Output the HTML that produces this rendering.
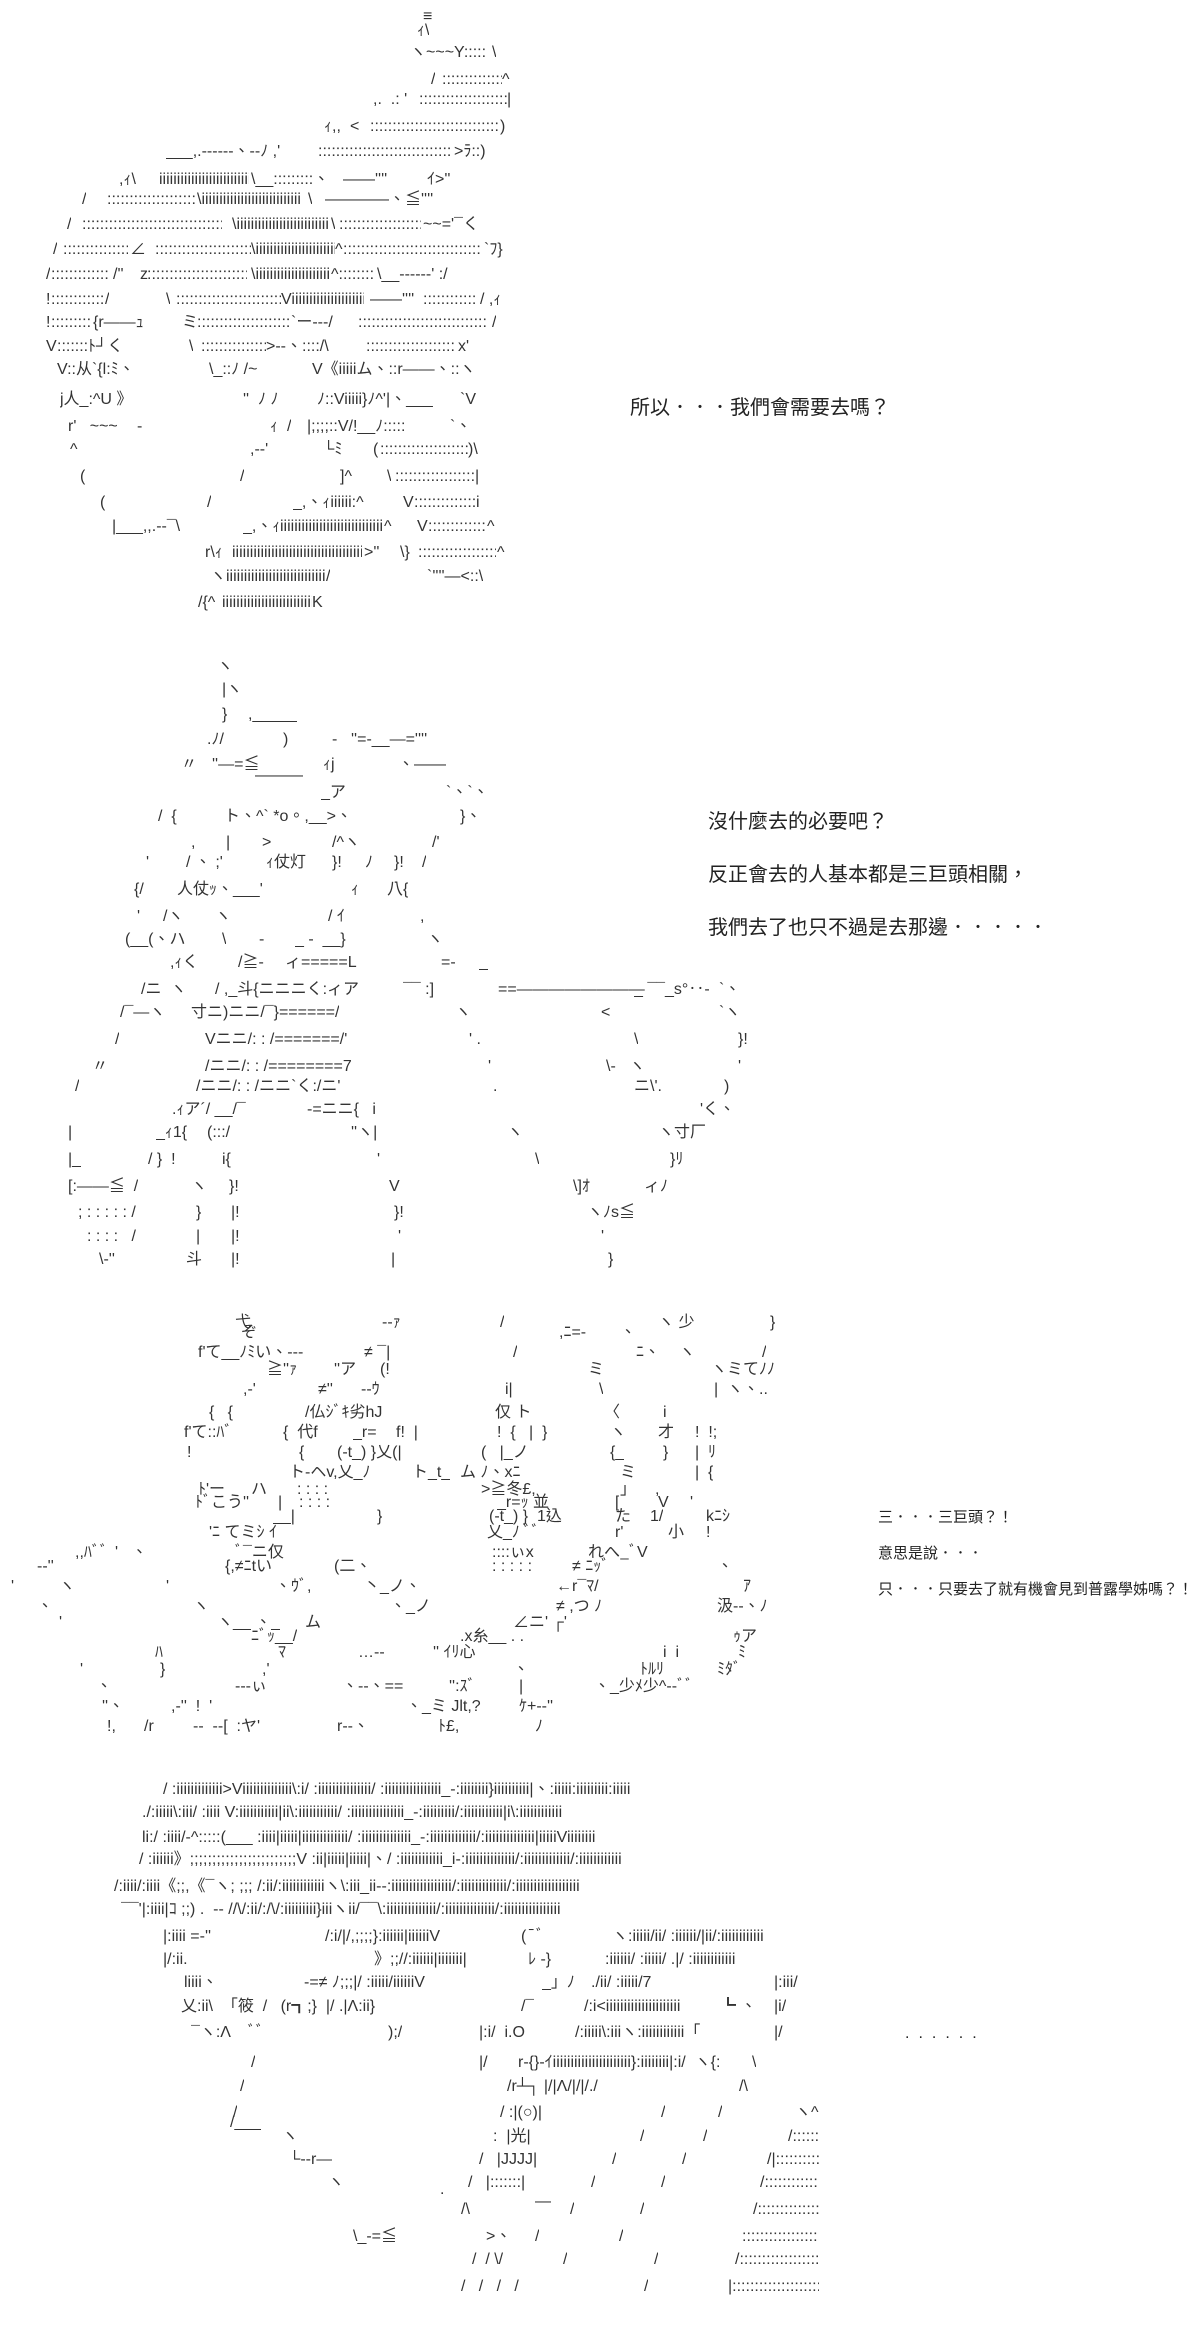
<!DOCTYPE html>
<html><head><meta charset="utf-8">
<style>
html,body{margin:0;padding:0;background:#fff;}
body{width:1200px;height:2326px;position:relative;overflow:hidden;}
i{position:absolute;font-style:normal;white-space:pre;overflow:hidden;line-height:20px;height:21px;font-size:16px;font-family:"Liberation Sans","Noto Sans CJK TC",sans-serif;color:#333;}
.d{position:absolute;white-space:pre;font-family:"Liberation Sans","Noto Sans CJK TC",sans-serif;color:#222;}
</style></head><body>

<!-- Block 1 -->
<i style="left:423px;top:7px">≡</i>
<i style="left:417px;top:21px">ｨ\</i>
<i style="left:410px;top:43px">ヽ~~~Y:::::</i><i style="left:492px;top:43px">\</i>
<i style="left:431px;top:70px">/</i><i style="left:442px;top:70px;width:60px">::::::::::::::::::::::::</i><i style="left:502px;top:70px">^</i>
<i style="left:373px;top:90px">,.  .: '</i><i style="left:419px;top:90px;width:88px">::::::::::::::::::::::::::::::</i><i style="left:507px;top:90px">|</i>
<i style="left:324px;top:117px">ｨ,,</i><i style="left:350px;top:117px">&lt;</i><i style="left:370px;top:117px;width:130px">::::::::::::::::::::::::::::::::::::::::</i><i style="left:500px;top:117px">)</i>
<i style="left:166px;top:142px">___,.------、--ﾉ ,'</i><i style="left:318px;top:142px;width:134px">::::::::::::::::::::::::::::::::::::::::</i><i style="left:454px;top:142px">&gt;ﾗ::)</i>
<i style="left:119px;top:170px">,ｨ\</i><i style="left:159px;top:170px;width:90px">iiiiiiiiiiiiiiiiiiiiiiiiiiiiiiiiii</i><i style="left:251px;top:170px">\__:::::::::、</i><i style="left:343px;top:170px">——''''</i><i style="left:427px;top:170px">ｲ&gt;''</i>
<i style="left:82px;top:190px">/</i><i style="left:107px;top:190px;width:88px">::::::::::::::::::::::::::::::</i><i style="left:197px;top:190px;width:103px">\iiiiiiiiiiiiiiiiiiiiiiiiiiiiiiiiiii</i><i style="left:308px;top:190px">\</i><i style="left:325px;top:190px">————、≦''''</i>
<i style="left:67px;top:215px">/</i><i style="left:82px;top:215px;width:140px">::::::::::::::::::::::::::::::::::::::::</i><i style="left:232px;top:215px;width:96px">\iiiiiiiiiiiiiiiiiiiiiiiiiiiiiiiii</i><i style="left:331px;top:215px">\</i><i style="left:339px;top:215px;width:82px">::::::::::::::::::::::::</i><i style="left:423px;top:215px">~~='¯</i><i style="left:463px;top:215px">く</i>
<i style="left:53px;top:240px">/</i><i style="left:63px;top:240px;width:65px">:::::::::::::::::::::</i><i style="left:130px;top:240px">∠</i><i style="left:155px;top:240px;width:96px">::::::::::::::::::::::::::::::</i><i style="left:251px;top:240px;width:84px">\iiiiiiiiiiiiiiiiiiiiiiiiiiiii</i><i style="left:335px;top:240px">^</i><i style="left:343px;top:240px;width:137px">::::::::::::::::::::::::::::::::::::::::</i><i style="left:484px;top:240px">`ﾌ}</i>
<i style="left:46px;top:265px">/</i><i style="left:51px;top:265px;width:58px">:::::::::::::::::::</i><i style="left:113px;top:265px">/''</i><i style="left:140px;top:265px">z</i><i style="left:147px;top:265px;width:100px">::::::::::::::::::::::::::::::::</i><i style="left:251px;top:265px;width:80px">\iiiiiiiiiiiiiiiiiiiiiiiii</i><i style="left:331px;top:265px">^::::::::</i><i style="left:377px;top:265px">\__-----‐' :/</i>
<i style="left:46px;top:290px">!</i><i style="left:51px;top:290px;width:52px">:::::::::::::::::</i><i style="left:105px;top:290px">/</i><i style="left:166px;top:290px">\</i><i style="left:176px;top:290px;width:105px">::::::::::::::::::::::::::::::::</i><i style="left:281px;top:290px;width:83px">Viiiiiiiiiiiiiiiiiiiiiiii}</i><i style="left:370px;top:290px">——''''</i><i style="left:423px;top:290px;width:54px">::::::::::::::::</i><i style="left:480px;top:290px">/ ,ｨ</i>
<i style="left:46px;top:313px">!</i><i style="left:51px;top:313px;width:40px">:::::::::::::</i><i style="left:93px;top:313px">{r——ｭ</i><i style="left:182px;top:313px">ミ</i><i style="left:197px;top:313px;width:92px">::::::::::::::::::::::::::::::</i><i style="left:291px;top:313px">`ー---/</i><i style="left:358px;top:313px;width:130px">::::::::::::::::::::::::::::::::::::::::</i><i style="left:492px;top:313px">/</i>
<i style="left:46px;top:337px">V</i><i style="left:57px;top:337px;width:30px">::::::::::</i><i style="left:88px;top:337px">ﾄ┘く</i><i style="left:189px;top:337px">\</i><i style="left:201px;top:337px;width:65px">::::::::::::::::::::</i><i style="left:266px;top:337px">&gt;--、::::/\</i><i style="left:366px;top:337px;width:90px">::::::::::::::::::::::::::::</i><i style="left:458px;top:337px">x'</i>
<i style="left:57px;top:360px">V::从`{l:ﾐ、</i><i style="left:209px;top:360px">\_::ﾉ /~</i><i style="left:312px;top:360px">V《iiiiiム、::r——、::ヽ</i>
<i style="left:60px;top:390px">j人_:^U 》</i><i style="left:243px;top:390px">''  ﾉ ﾉ</i><i style="left:317px;top:390px">ﾉ::Viiiii}ﾉ^'|、___</i><i style="left:460px;top:390px">`V</i>
<i style="left:68px;top:417px">r'   ~~~</i><i style="left:137px;top:417px">-</i><i style="left:270px;top:417px">ｨ</i><i style="left:287px;top:417px">/</i><i style="left:307px;top:417px">|;;;;::V/!__ﾉ:::::</i><i style="left:450px;top:417px">`、</i>
<i style="left:70px;top:440px">^</i><i style="left:250px;top:440px">,--'</i><i style="left:323px;top:440px">└ﾐ</i><i style="left:373px;top:440px">(</i><i style="left:380px;top:440px;width:88px">::::::::::::::::::::::::::::::</i><i style="left:468px;top:440px">)\</i>
<i style="left:80px;top:467px">(</i><i style="left:240px;top:467px">/</i><i style="left:340px;top:467px">]^</i><i style="left:387px;top:467px">\</i><i style="left:395px;top:467px;width:80px">::::::::::::::::::::::::::::</i><i style="left:475px;top:467px">|</i>
<i style="left:100px;top:493px">(</i><i style="left:207px;top:493px">/</i><i style="left:293px;top:493px">_,、ｨiiiiii:^</i><i style="left:403px;top:493px">V</i><i style="left:414px;top:493px;width:62px">::::::::::::::::::::::</i><i style="left:476px;top:493px">i</i>
<i style="left:112px;top:517px">|___,,.--¯\</i><i style="left:243px;top:517px">_,、ｨ</i><i style="left:280px;top:517px;width:104px">iiiiiiiiiiiiiiiiiiiiiiiiiiiiiiiiiiii</i><i style="left:384px;top:517px">^</i><i style="left:417px;top:517px">V</i><i style="left:428px;top:517px;width:58px">::::::::::::::::::::</i><i style="left:487px;top:517px">^</i>
<i style="left:205px;top:543px">r\ｨ</i><i style="left:232px;top:543px;width:130px">iiiiiiiiiiiiiiiiiiiiiiiiiiiiiiiiiiiiiiiiiiiiii</i><i style="left:364px;top:543px">&gt;''</i><i style="left:400px;top:543px">\}</i><i style="left:418px;top:543px;width:78px">::::::::::::::::::::::::::</i><i style="left:497px;top:543px">^</i>
<i style="left:210px;top:567px">ヽ</i><i style="left:226px;top:567px;width:100px">iiiiiiiiiiiiiiiiiiiiiiiiiiiiiiiiiii</i><i style="left:326px;top:567px">/</i><i style="left:427px;top:567px">`''''—&lt;::\</i>
<i style="left:198px;top:593px">/{^</i><i style="left:222px;top:593px;width:90px">iiiiiiiiiiiiiiiiiiiiiiiiiiiiiiiii</i><i style="left:312px;top:593px">K</i>

<div class="d" style="left:630px;top:391px;font-size:20px">所以．．．我們會需要去嗎？</div>

<!-- Block 2 -->
<i style="left:217px;top:657px">ヽ</i>
<i style="left:222px;top:680px">|ヽ</i>
<i style="left:222px;top:705px">}</i><i style="left:248px;top:705px">,_____</i>
<i style="left:207px;top:730px">.ﾉ/</i><i style="left:283px;top:730px">)</i><i style="left:332px;top:730px">-</i><i style="left:351px;top:730px">''=-__—=''''</i>
<i style="left:181px;top:755px">〃</i><i style="left:212px;top:755px">''—=≦</i><i style="left:323px;top:755px">ｨj</i><i style="left:398px;top:755px">、——</i>
<i style="left:255px;top:766px">———</i>
<i style="left:321px;top:783px">_ア</i><i style="left:446px;top:783px">`、`、</i>
<i style="left:158px;top:807px">/  {</i><i style="left:224px;top:807px">ト、^` *o。,__&gt;、</i><i style="left:460px;top:807px">}、</i>
<i style="left:191px;top:833px">,</i><i style="left:226px;top:833px">|</i><i style="left:262px;top:833px">&gt;</i><i style="left:332px;top:833px">/^ヽ</i><i style="left:432px;top:833px">/'</i>
<i style="left:146px;top:853px">'</i><i style="left:186px;top:853px">/ 、 ;'</i><i style="left:266px;top:853px">ｨ仗灯</i><i style="left:332px;top:853px">}!</i><i style="left:365px;top:853px">ﾉ</i><i style="left:394px;top:853px">}!</i><i style="left:422px;top:853px">/</i>
<i style="left:134px;top:880px">{/</i><i style="left:177px;top:880px">人仗ｯ、___'</i><i style="left:351px;top:880px">ｨ</i><i style="left:387px;top:880px">八{</i>
<i style="left:137px;top:907px">'</i><i style="left:163px;top:907px">/ヽ</i><i style="left:215px;top:907px">ヽ</i><i style="left:328px;top:907px">/ ｲ</i><i style="left:420px;top:907px">,</i>
<i style="left:125px;top:930px">(__(、ハ</i><i style="left:222px;top:930px">\</i><i style="left:259px;top:930px">-</i><i style="left:295px;top:930px">_ -  __}</i><i style="left:427px;top:930px">ヽ</i>
<i style="left:170px;top:953px">,ｨく</i><i style="left:238px;top:953px">/≧-</i><i style="left:285px;top:953px">ィ=====L</i><i style="left:441px;top:953px">=-</i><i style="left:479px;top:953px">_</i>
<i style="left:141px;top:980px">/ニ  ヽ</i><i style="left:215px;top:980px">/ ,_斗{ニニニく:ィア</i><i style="left:403px;top:980px">¯¯ :]</i><i style="left:498px;top:980px">==————————</i><i style="left:634px;top:980px">_ ¯¯_s°‥-</i><i style="left:719px;top:980px">`、</i>
<i style="left:120px;top:1003px">/¯—ヽ</i><i style="left:191px;top:1003px">寸ニ)ニニ/¯}======/</i><i style="left:455px;top:1003px">ヽ</i><i style="left:601px;top:1003px">&lt;</i><i style="left:719px;top:1003px">`ヽ</i>
<i style="left:115px;top:1030px">/</i><i style="left:205px;top:1030px">Vニニ/: : /=======/'</i><i style="left:469px;top:1030px">' .</i><i style="left:634px;top:1030px">\</i><i style="left:738px;top:1030px">}!</i>
<i style="left:92px;top:1057px">〃</i><i style="left:205px;top:1057px">/ニニ/: : /========7</i><i style="left:488px;top:1057px">'</i><i style="left:606px;top:1057px">\-   ヽ</i><i style="left:738px;top:1057px">'</i>
<i style="left:75px;top:1077px">/</i><i style="left:196px;top:1077px">/ニニ/: : /ニニ`く:/ニ'</i><i style="left:493px;top:1077px">.</i><i style="left:634px;top:1077px">ニ\'.</i><i style="left:724px;top:1077px">)</i>
<i style="left:172px;top:1100px">.ｨア´/ __/¯</i><i style="left:307px;top:1100px">-=ニニ{   i</i><i style="left:700px;top:1100px">'く、</i>
<i style="left:68px;top:1123px">|</i><i style="left:156px;top:1123px">_ｨ1{</i><i style="left:207px;top:1123px">(:::/</i><i style="left:351px;top:1123px">''ヽ|</i><i style="left:507px;top:1123px">ヽ</i><i style="left:658px;top:1123px">ヽ寸厂</i>
<i style="left:68px;top:1150px">|_</i><i style="left:148px;top:1150px">/ }  !</i><i style="left:222px;top:1150px">i{</i><i style="left:377px;top:1150px">'</i><i style="left:535px;top:1150px">\</i><i style="left:670px;top:1150px">}ﾘ</i>
<i style="left:68px;top:1177px">[:——≦  /</i><i style="left:191px;top:1177px">ヽ</i><i style="left:229px;top:1177px">}!</i><i style="left:389px;top:1177px">V</i><i style="left:573px;top:1177px">\]ｵ</i><i style="left:644px;top:1177px">ィﾉ</i>
<i style="left:78px;top:1203px">; : : : : : /</i><i style="left:196px;top:1203px">}</i><i style="left:231px;top:1203px">|!</i><i style="left:394px;top:1203px">}!</i><i style="left:587px;top:1203px">ヽﾉs≦</i>
<i style="left:87px;top:1227px">: : : :   /</i><i style="left:196px;top:1227px">|</i><i style="left:231px;top:1227px">|!</i><i style="left:398px;top:1227px">'</i><i style="left:601px;top:1227px">'</i>
<i style="left:99px;top:1250px">\-''</i><i style="left:186px;top:1250px">斗</i><i style="left:231px;top:1250px">|!</i><i style="left:391px;top:1250px">|</i><i style="left:608px;top:1250px">}</i>

<div class="d" style="left:708px;top:805px;font-size:20px">沒什麼去的必要吧？</div>
<div class="d" style="left:708px;top:858px;font-size:20px">反正會去的人基本都是三巨頭相關，</div>
<div class="d" style="left:708px;top:911px;font-size:20px">我們去了也只不過是去那邊．．．．．</div>

<!-- Block 3 -->
<i style="left:235px;top:1313px">弋</i><i style="left:382px;top:1313px">--ｧ</i><i style="left:500px;top:1313px">/</i><i style="left:658px;top:1313px">ヽ 少</i><i style="left:770px;top:1313px">}</i>
<i style="left:241px;top:1323px">ぞ</i><i style="left:559px;top:1323px">,ﾆ=-</i><i style="left:620px;top:1323px">、</i>
<i style="left:198px;top:1343px">f'て__ﾉﾐい、---</i><i style="left:364px;top:1343px">≠ ¯|</i><i style="left:513px;top:1343px">/</i><i style="left:636px;top:1343px">ﾆ、</i><i style="left:679px;top:1343px">ヽ</i><i style="left:762px;top:1343px">/</i>
<i style="left:267px;top:1360px">≧''ｧ</i><i style="left:334px;top:1360px">''ア</i><i style="left:380px;top:1360px">(!</i><i style="left:588px;top:1360px">ミ</i><i style="left:711px;top:1360px">ヽミてﾉﾉ</i>
<i style="left:243px;top:1380px">,-'</i><i style="left:318px;top:1380px">≠''</i><i style="left:361px;top:1380px">--ｳ</i><i style="left:505px;top:1380px">i|</i><i style="left:599px;top:1380px">\</i><i style="left:714px;top:1380px">|</i><i style="left:727px;top:1380px">ヽ、..</i>
<i style="left:209px;top:1403px">{   {</i><i style="left:305px;top:1403px">/仏ｼﾞｷ劣hJ</i><i style="left:495px;top:1403px">仅 ト</i><i style="left:604px;top:1403px">〈</i><i style="left:663px;top:1403px">i</i>
<i style="left:184px;top:1423px">f'て::ﾊﾞ</i><i style="left:283px;top:1423px">{  代f</i><i style="left:353px;top:1423px">_r=</i><i style="left:396px;top:1423px">f!  |</i><i style="left:497px;top:1423px">!  {   |  }</i><i style="left:610px;top:1423px">ヽ</i><i style="left:658px;top:1423px">才</i><i style="left:695px;top:1423px">!  !;</i>
<i style="left:187px;top:1443px">!</i><i style="left:299px;top:1443px">{</i><i style="left:337px;top:1443px">(-t_) }乂(|</i><i style="left:481px;top:1443px">(   |_ノ</i><i style="left:610px;top:1443px">{_</i><i style="left:663px;top:1443px">}</i><i style="left:695px;top:1443px">|  ﾘ</i>
<i style="left:289px;top:1463px">ト-ヘv,乂_ﾉ</i><i style="left:412px;top:1463px">ト_t_</i><i style="left:460px;top:1463px">ム ﾉ、xﾆ</i><i style="left:620px;top:1463px">ミ</i><i style="left:695px;top:1463px">|  {</i>
<i style="left:198px;top:1480px">ﾄ'ー</i><i style="left:251px;top:1480px">ハ</i><i style="left:297px;top:1480px">: : : :</i><i style="left:481px;top:1480px">&gt;≧冬£,</i><i style="left:620px;top:1480px">」</i><i style="left:655px;top:1480px">,</i>
<i style="left:195px;top:1493px">ﾄﾞこう''</i><i style="left:278px;top:1493px">|</i><i style="left:299px;top:1493px">: : : :</i><i style="left:497px;top:1493px">_r=ｯ 並</i><i style="left:615px;top:1493px">[</i><i style="left:658px;top:1493px">V</i><i style="left:690px;top:1493px">'</i>
<i style="left:273px;top:1507px">__|</i><i style="left:377px;top:1507px">}</i><i style="left:489px;top:1507px">(-t_) }  1込</i><i style="left:615px;top:1507px">た</i><i style="left:650px;top:1507px">1/</i><i style="left:706px;top:1507px">kﾆｼ</i>
<i style="left:209px;top:1523px">'ﾆ てミｼ ｲ</i><i style="left:487px;top:1523px">乂_ﾉ ﾞﾞ</i><i style="left:615px;top:1523px">r'</i><i style="left:668px;top:1523px">小</i><i style="left:706px;top:1523px">!</i>
<i style="left:75px;top:1543px">,,ﾊﾞﾞ</i><i style="left:115px;top:1543px">'   、</i><i style="left:235px;top:1543px">ﾞ¯ニ仅</i><i style="left:492px;top:1543px">::::ぃx</i><i style="left:588px;top:1543px">れへ_ﾞV</i>
<i style="left:37px;top:1557px">--''</i><i style="left:225px;top:1557px">{,≠ﾆtい</i><i style="left:334px;top:1557px">(二、</i><i style="left:492px;top:1557px">: : : : :</i><i style="left:572px;top:1557px">≠ ﾆｯﾞ</i><i style="left:717px;top:1557px">、</i>
<i style="left:11px;top:1577px">'</i><i style="left:59px;top:1577px">ヽ</i><i style="left:166px;top:1577px">'</i><i style="left:275px;top:1577px">、ｳﾞ,</i><i style="left:364px;top:1577px">丶_ノ、</i><i style="left:556px;top:1577px">←r¯ﾏ/</i><i style="left:743px;top:1577px">ｱ</i>
<i style="left:37px;top:1597px">、</i><i style="left:193px;top:1597px">ヽ</i><i style="left:390px;top:1597px">、_ノ</i><i style="left:556px;top:1597px">≠ ,つ ﾉ</i><i style="left:717px;top:1597px">汲--、ﾉ</i>
<i style="left:59px;top:1613px">'</i><i style="left:217px;top:1613px">ヽ__ 、_</i><i style="left:305px;top:1613px">ム</i><i style="left:513px;top:1613px">∠ニ' ┌'</i>
<i style="left:251px;top:1627px">ﾆﾞｯ__/</i><i style="left:460px;top:1627px">.x糸__ . .</i><i style="left:733px;top:1627px">ｩア</i>
<i style="left:155px;top:1643px">ﾊ</i><i style="left:278px;top:1643px">ﾏ</i><i style="left:358px;top:1643px">…--</i><i style="left:433px;top:1643px">'' ｲﾘ心</i><i style="left:663px;top:1643px">i  i</i><i style="left:738px;top:1643px">ﾐ</i>
<i style="left:80px;top:1660px">'</i><i style="left:160px;top:1660px">}</i><i style="left:262px;top:1660px">,'</i><i style="left:513px;top:1660px">、</i><i style="left:640px;top:1660px">ﾄﾙﾘ</i><i style="left:717px;top:1660px">ﾐﾀﾞ</i>
<i style="left:96px;top:1677px">、</i><i style="left:235px;top:1677px">---ぃ</i><i style="left:342px;top:1677px">、--、==</i><i style="left:449px;top:1677px">'':ｽﾞ</i><i style="left:519px;top:1677px">|</i><i style="left:594px;top:1677px">、_少ﾒ少^--ﾞﾞ</i>
<i style="left:102px;top:1697px">''、</i><i style="left:171px;top:1697px">,-''  !  '</i><i style="left:406px;top:1697px">、_ミ Jlt,?</i><i style="left:519px;top:1697px">ｹ+--''</i>
<i style="left:107px;top:1717px">!,</i><i style="left:144px;top:1717px">/r</i><i style="left:193px;top:1717px">--  --[  :ヤ'</i><i style="left:337px;top:1717px">r--、</i><i style="left:438px;top:1717px">ﾄ£,</i><i style="left:535px;top:1717px">ﾉ</i>

<div class="d" style="left:878px;top:1506px;font-size:15px">三．．．三巨頭？！</div>
<div class="d" style="left:878px;top:1542px;font-size:15px">意思是說．．．</div>
<div class="d" style="left:878px;top:1578px;font-size:15px">只．．．只要去了就有機會見到普露學姊嗎？！</div>

<!-- Block 4 -->
<i style="left:163px;top:1780px;width:653px">/ :iiiiiiiiiiiii&gt;Viiiiiiiiiiiiii\:i/ :iiiiiiiiiiiiiii/ :iiiiiiiiiiiiiiii_-:iiiiiiii}iiiiiiiiii|、:iiiii:iiiiiiiii:iiiii</i>
<i style="left:142px;top:1803px;width:674px">./:iiiii\:iii/ :iiii V:iiiiiiiiiii|ii\:iiiiiiiiiii/ :iiiiiiiiiiiiiii_-:iiiiiiiii/:iiiiiiiiiii|i\:iiiiiiiiiiii</i>
<i style="left:142px;top:1828px;width:684px">li:/ :iiii/-^:::::(___ :iiii|iiiii|iiiiiiiiiiiii/ :iiiiiiiiiiiiii_-:iiiiiiiiiiiii/:iiiiiiiiiiiiii|iiiiiViiiiiiii</i>
<i style="left:139px;top:1850px;width:677px">/ :iiiiii》;;;;;;;;;;;;;;;;;;;;;;;;V :ii|iiiii|iiiii|、/ :iiiiiiiiiiii_i-:iiiiiiiiiiiiii/:iiiiiiiiiiiii/:iiiiiiiiiiii</i>
<i style="left:114px;top:1877px;width:705px">/:iiii/:iiii《;;,《¯ヽ; ;;; /:ii/:iiiiiiiiiiiiヽ\:iii_ii--:iiiiiiiiiiiiiiiii/:iiiiiiiiiiiii/:iiiiiiiiiiiiiiiiii</i>
<i style="left:121px;top:1900px;width:698px">¯¯'|:iiii|ｺ ;;) .  -- //\/:ii/:/\/:iiiiiiiii}iiiヽii/¯¯\:iiiiiiiiiiiiii/:iiiiiiiiiiiiii/:iiiiiiiiiiiiiiii</i>
<i style="left:163px;top:1927px">|:iiii =-''</i><i style="left:325px;top:1927px;width:189px">/:i/|/,;;;;}:iiiiii|iiiiiiV</i><i style="left:521px;top:1927px">(¯ﾞ</i><i style="left:612px;top:1927px;width:207px">ヽ:iiiii/ii/ :iiiiii/|ii/:iiiiiiiiiiii</i>
<i style="left:163px;top:1950px">|/:ii.</i><i style="left:374px;top:1950px;width:140px">》;;//:iiiiii|iiiiiii|</i><i style="left:528px;top:1950px">ﾚ -}</i><i style="left:605px;top:1950px;width:214px">:iiiiii/ :iiiii/ .|/ :iiiiiiiiiiii</i>
<i style="left:184px;top:1973px">liiii、</i><i style="left:304px;top:1973px;width:203px">-=≠ ﾉ;;;|/ :iiiii/iiiiiiV</i><i style="left:542px;top:1973px">_」ﾉ</i><i style="left:591px;top:1973px">./ii/ :iiiii/7</i><i style="left:774px;top:1973px">|:iii/</i>
<i style="left:181px;top:1997px">乂:ii\  「筱  /   (r┓;}  |/ .|Λ:ii}</i><i style="left:521px;top:1997px">/¯</i><i style="left:584px;top:1997px;width:130px">/:i&lt;iiiiiiiiiiiiiiiiiiiii</i><i style="left:720px;top:1997px">┗ 、</i><i style="left:774px;top:1997px">|i/</i>
<i style="left:191px;top:2023px">¯ヽ:Λ    ﾞﾞ</i><i style="left:388px;top:2023px">);/</i><i style="left:479px;top:2023px">|:i/  i.O</i><i style="left:575px;top:2023px;width:164px">/:iiiii\:iiiヽ:iiiiiiiiiiii「</i><i style="left:774px;top:2023px">|/</i>
<i style="left:251px;top:2053px">/</i><i style="left:479px;top:2053px">|/</i><i style="left:518px;top:2053px;width:232px">r-{}-ｲiiiiiiiiiiiiiiiiiiiiii}:iiiiiiii|:i/  ヽ{:</i><i style="left:752px;top:2053px">\</i>
<i style="left:240px;top:2077px">/</i><i style="left:507px;top:2077px">/r┴┐ |/|Λ/|/|/./</i><i style="left:739px;top:2077px">/\</i>
<i style="left:233px;top:2103px">/</i><i style="left:500px;top:2103px">/ :|(○)|</i><i style="left:661px;top:2103px">/</i><i style="left:718px;top:2103px">/</i><i style="left:795px;top:2103px">ヽ^</i>
<i style="left:230px;top:2113px">/___</i>
<i style="left:282px;top:2127px">ヽ</i><i style="left:493px;top:2127px">:  |光|</i><i style="left:640px;top:2127px">/</i><i style="left:703px;top:2127px">/</i><i style="left:788px;top:2127px">/::::::</i>
<i style="left:289px;top:2150px">└--r—</i><i style="left:479px;top:2150px">/   |JJJJ|</i><i style="left:612px;top:2150px">/</i><i style="left:682px;top:2150px">/</i><i style="left:767px;top:2150px;width:52px">/|::::::::::::</i>
<i style="left:328px;top:2173px">ヽ</i><i style="left:468px;top:2173px">/   |:::::::|</i><i style="left:591px;top:2173px">/</i><i style="left:661px;top:2173px">/</i><i style="left:760px;top:2173px;width:59px">/::::::::::::::</i>
<i style="left:535px;top:2192px">—</i>
<i style="left:461px;top:2200px">/\</i><i style="left:570px;top:2200px">/</i><i style="left:640px;top:2200px">/</i><i style="left:753px;top:2200px;width:66px">/:::::::::::::::</i>
<i style="left:440px;top:2180px">.</i>
<i style="left:353px;top:2227px">\_-=≦</i><i style="left:486px;top:2227px">&gt;、</i><i style="left:535px;top:2227px">/</i><i style="left:619px;top:2227px">/</i><i style="left:742px;top:2227px;width:77px">:::::::::::::::::::</i>
<i style="left:472px;top:2250px">/  / \/</i><i style="left:563px;top:2250px">/</i><i style="left:654px;top:2250px">/</i><i style="left:735px;top:2250px;width:84px">/::::::::::::::::::</i>
<i style="left:461px;top:2277px">/   /   /   /</i><i style="left:644px;top:2277px">/</i><i style="left:728px;top:2277px;width:91px">|::::::::::::::::::::</i>

<div class="d" style="left:905px;top:2025px;font-size:16px;letter-spacing:9px">......</div>

</body></html>
